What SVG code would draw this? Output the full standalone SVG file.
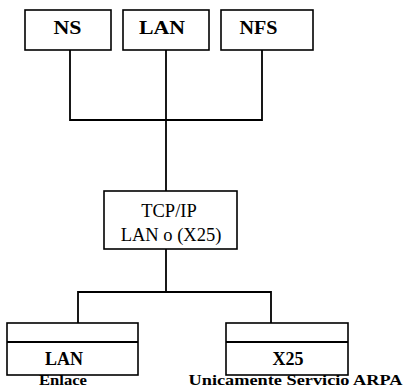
<svg xmlns="http://www.w3.org/2000/svg" width="406" height="388" viewBox="0 0 406 388">
<style>
.box{fill:#fff;stroke:#000;stroke-width:1.6}
.ln{fill:none;stroke:#000;stroke-width:1.8}
.b{font-family:"Liberation Serif","Times New Roman",serif;font-weight:bold;font-size:18px;fill:#000;text-anchor:middle}
.r{font-family:"Liberation Serif","Times New Roman",serif;font-size:18.5px;fill:#000;text-anchor:middle}
.s{font-size:15.5px}
</style>
<rect width="406" height="388" fill="#fff"/>
<g id="connectors">
<path class="ln" d="M70,50 V120 H262 V50"/>
<path class="ln" d="M166,50 V191"/>
<path class="ln" d="M166,249 V292"/>
<path class="ln" d="M78,323 V292 H271 V323"/>
</g>
<g id="ns"><rect class="box" x="25" y="10" width="86" height="40"/><text class="b" x="67.5" y="34" textLength="28" lengthAdjust="spacingAndGlyphs">NS</text></g>
<g id="lan-top"><rect class="box" x="123" y="10" width="86" height="40"/><text class="b" x="162" y="34" textLength="46" lengthAdjust="spacingAndGlyphs">LAN</text></g>
<g id="nfs"><rect class="box" x="221" y="10" width="92" height="40"/><text class="b" x="258.5" y="34" textLength="38" lengthAdjust="spacingAndGlyphs">NFS</text></g>
<g id="tcpip"><rect class="box" x="104" y="191" width="133" height="58"/><text class="r" x="169" y="217">TCP/IP</text><text class="r" x="171" y="241">LAN o (X25)</text></g>
<g id="lan-bottom"><rect class="box" x="7" y="323" width="131" height="52"/><line class="ln" x1="7" y1="342" x2="138" y2="342"/><text class="b" x="64" y="365">LAN</text><text class="b s" x="63" y="384.5" textLength="48" lengthAdjust="spacingAndGlyphs">Enlace</text></g>
<g id="x25"><rect class="box" x="226" y="323" width="122" height="52"/><line class="ln" x1="226" y1="342" x2="348" y2="342"/><text class="b" x="288" y="365">X25</text></g>
<text class="b s" x="295.5" y="384.5" textLength="214" lengthAdjust="spacingAndGlyphs">Unicamente Servicio ARPA</text>
</svg>
